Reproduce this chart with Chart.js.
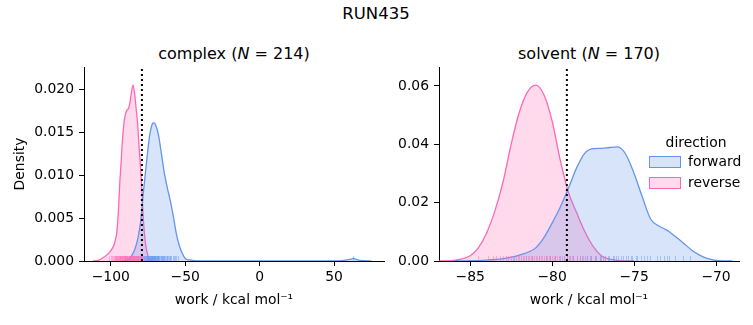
<!DOCTYPE html>
<html>
<head>
<meta charset="utf-8">
<script src="https://cdn.jsdelivr.net/npm/chart.js@4.4.0/dist/chart.umd.min.js"></script>
<style>
  body { margin: 0; background: #fff; font-family: 'DejaVu Sans', sans-serif; }
  #fig { position: relative; width: 753px; height: 325px; overflow: hidden; }
  .panel { position: absolute; top: 0; height: 325px; }
  .txt { position: absolute; white-space: nowrap; transform: translate(-50%, -50%); color: #000; }
  .leg { position: absolute; left: 649px; font-size: 13.9px; color: #000; white-space: nowrap; }
  .leg span.patch { display: inline-block; width: 32px; height: 12px; box-sizing: border-box; vertical-align: middle; margin-right: 7px; }
</style>
</head>
<body>
<div id="fig">
  <div class="txt" style="left:376px; top:13px; font-size:16.5px;">RUN435</div>
  <div class="txt" style="left:234px; top:53px; font-size:16px;">complex (<i>N</i> = 214)</div>
  <div class="txt" style="left:589px; top:53px; font-size:16px;">solvent (<i>N</i> = 170)</div>

  <div class="panel" style="left:0; width:390px;"><canvas id="complexChart"></canvas></div>
  <div class="panel" style="left:390px; width:363px;"><canvas id="solventChart"></canvas></div>

  <div class="txt" style="left:696px; top:142px; font-size:13.9px;">direction</div>
  <div class="leg" style="top:153px;"><span class="patch" style="background:rgba(100,149,237,0.25); border:1px solid #6495ed;"></span>forward</div>
  <div class="leg" style="top:174px;"><span class="patch" style="background:rgba(255,105,180,0.25); border:1px solid #ff69b4;"></span>reverse</div>
</div>

<script>
// curvas KDE - complex
const complexFwdX = [-92, -88, -86, -84, -82, -80, -78, -76, -74, -72, -71, -70, -68, -66, -64, -62, -60, -58, -56, -54, -52, -50, -47, -44, -40, -30, 0, 40, 55, 60, 62, 63, 64, 66, 70, 75];
const complexFwdY = [0, 0.0002, 0.0006, 0.0013, 0.0025, 0.0045, 0.0082, 0.0115, 0.0145, 0.016, 0.0161, 0.0159, 0.0147, 0.0125, 0.0102, 0.0085, 0.007, 0.0052, 0.0032, 0.0018, 0.0009, 0.0003, 0.00012, 0.00005, 0.00002, 0.00001, 0.00001, 0.00001, 0.00005, 0.00015, 0.00025, 0.0003, 0.00025, 0.00012, 0.00003, 0];
const complexRevX = [-112, -108, -105, -102, -100, -98, -97, -96, -95, -94, -93, -92, -91, -90, -89, -88, -87, -86, -85, -84, -83, -82, -81, -80, -79, -78, -77, -76, -75, -74, -72];
const complexRevY = [0, 0.0001, 0.0004, 0.0008, 0.0012, 0.0018, 0.0024, 0.0033, 0.0055, 0.009, 0.0117, 0.0145, 0.0163, 0.0172, 0.0176, 0.0178, 0.0186, 0.0198, 0.0205, 0.0195, 0.0178, 0.016, 0.0133, 0.0108, 0.0078, 0.0045, 0.0025, 0.0013, 0.0006, 0.0002, 0];

// curvas KDE - solvent
const solventFwdX = [-86, -84, -83, -82, -81, -80.5, -80, -79.5, -79, -78.5, -78, -77.5, -77, -76.5, -76, -75.5, -75, -74.5, -74, -73.5, -73, -72.5, -72, -71.5, -71, -70.5, -70, -69];
const solventFwdY = [0, 0.0003, 0.0008, 0.002, 0.0045, 0.008, 0.013, 0.0185, 0.025, 0.032, 0.037, 0.0385, 0.0386, 0.0389, 0.0391, 0.0365, 0.03, 0.022, 0.0145, 0.012, 0.0106, 0.0085, 0.0062, 0.0038, 0.002, 0.0008, 0.0002, 0];
const solventRevX = [-87, -86, -85.5, -85, -84.5, -84, -83.5, -83, -82.5, -82, -81.5, -81, -80.5, -80, -79.5, -79, -78.5, -78, -77.5, -77, -76.5, -76, -75];
const solventRevY = [0, 0.0002, 0.0007, 0.0018, 0.0045, 0.0095, 0.017, 0.027, 0.04, 0.051, 0.058, 0.0603, 0.057, 0.048, 0.0345, 0.0235, 0.0165, 0.01, 0.005, 0.0018, 0.0006, 0.0002, 0];

// rug (valores individuais de trabalho, aproximados)
const complexFwdRug = [-83, -81.5, -80.6, -80, -79.5, -79, -78.5, -78, -77.6, -77.3, -76.9, -76.5, -76.2, -76, -75.7, -75.4, -75.2, -75, -74.7, -74.5, -74.2, -74, -73.7, -73.5, -73.2, -73, -72.8, -72.6, -72.4, -72.2, -72, -71.8, -71.6, -71.4, -71.2, -71, -70.8, -70.6, -70.4, -70.2, -70, -69.8, -69.5, -69.3, -69, -68.8, -68.5, -68.3, -68, -67.7, -67.3, -67, -66.6, -66.3, -65.9, -65.5, -65.1, -64.8, -64.4, -64, -63.5, -63, -62.5, -62, -61.5, -61, -60.5, -60, -59.3, -58.5, -57.7, -57, -56, -55, 63];
const complexRevRug = [-101, -100, -99.5, -98.7, -98, -97.5, -97, -96.6, -96.2, -95.8, -95.5, -95.2, -95, -94.6, -94.3, -94, -93.8, -93.5, -93.2, -93, -92.7, -92.5, -92.2, -92, -91.7, -91.4, -91.2, -91, -90.7, -90.5, -90.2, -90, -89.8, -89.6, -89.3, -89, -88.8, -88.5, -88.2, -88, -87.8, -87.6, -87.4, -87.2, -87, -86.8, -86.5, -86.3, -86.1, -86, -85.8, -85.6, -85.4, -85.2, -85, -84.8, -84.6, -84.4, -84.2, -84, -83.7, -83.5, -83.2, -83, -82.7, -82.5, -82.2, -82, -81.7, -81.4, -81.1, -80.8, -80.4, -80, -79.6, -79.2, -78.5];
const solventFwdRug = [-82.3, -81.6, -81.2, -80.8, -80.4, -80.1, -79.8, -79.5, -79.3, -79.1, -78.9, -78.7, -78.5, -78.3, -78.2, -78, -77.9, -77.7, -77.6, -77.4, -77.3, -77.1, -77, -76.9, -76.8, -76.6, -76.5, -76.3, -76.2, -76.1, -76, -75.8, -75.7, -75.5, -75.4, -75.2, -75.1, -74.9, -74.8, -74.6, -74.4, -74.2, -74, -73.6, -73.4, -73.2, -73, -72.9, -72.5, -72, -71.6];
const solventRevRug = [-84.5, -83.9, -83.6, -83.4, -83.2, -83, -82.8, -82.7, -82.5, -82.4, -82.2, -82.1, -82, -81.9, -81.8, -81.7, -81.6, -81.5, -81.4, -81.3, -81.2, -81.1, -81, -80.9, -80.8, -80.7, -80.6, -80.5, -80.4, -80.3, -80.2, -80.1, -80, -79.9, -79.8, -79.7, -79.6, -79.4, -79.3, -79.1, -79, -78.8, -78.7, -78.5, -78.3, -78.1, -77.9, -77.6, -77.4, -77.1, -76.8];

// estimativa (linha pontilhada)
const complexDG = -79.1;
const solventDG = -79.1;

// ticks
const complexXTicks = [-100, -50, 0, 50];
const complexYTicks = [0, 0.005, 0.01, 0.015, 0.02];
const solventXTicks = [-85, -80, -75, -70];
const solventYTicks = [0, 0.02, 0.04, 0.06];

const BLUE = '#6495ed';
const PINK = '#ff69b4';
const FS = 13.9;

Chart.defaults.font.family = "'DejaVu Sans', sans-serif";
Chart.defaults.color = '#000';

const extrasPlugin = {
  id: 'extras',
  afterDatasetsDraw(chart, args, opts) {
    const ctx = chart.ctx, xs = chart.scales.x, area = chart.chartArea;
    ctx.save();
    opts.rugs.forEach(r => {
      ctx.strokeStyle = r.color;
      ctx.globalAlpha = 0.45;
      ctx.lineWidth = 1;
      r.values.forEach(v => {
        const px = Math.round(xs.getPixelForValue(v)) + 0.5;
        ctx.beginPath();
        ctx.moveTo(px, area.bottom);
        ctx.lineTo(px, area.bottom - 5);
        ctx.stroke();
      });
    });
    ctx.globalAlpha = 1;
    ctx.strokeStyle = '#000';
    ctx.lineWidth = 2;
    ctx.setLineDash([2, 3]);
    const dx = xs.getPixelForValue(opts.dg);
    ctx.beginPath();
    ctx.moveTo(dx, area.bottom);
    ctx.lineTo(dx, area.top);
    ctx.stroke();
    ctx.restore();
  }
};

function pts(xs, ys) {
  return xs.map((x, i) => ({ x: x, y: ys[i] }));
}

function minus(s) {
  return s.replace('-', '\u2212');
}

function makeChart(id, cfg) {
  const ctx = document.getElementById(id).getContext('2d');
  return new Chart(ctx, {
    type: 'line',
    data: {
      datasets: [
        {
          label: 'forward',
          data: pts(cfg.fwdX, cfg.fwdY),
          borderColor: BLUE,
          backgroundColor: 'rgba(100,149,237,0.25)',
          fill: 'origin',
          borderWidth: 1.3,
          pointRadius: 0,
          cubicInterpolationMode: 'monotone'
        },
        {
          label: 'reverse',
          data: pts(cfg.revX, cfg.revY),
          borderColor: PINK,
          backgroundColor: 'rgba(255,105,180,0.25)',
          fill: 'origin',
          borderWidth: 1.3,
          pointRadius: 0,
          cubicInterpolationMode: 'monotone'
        }
      ]
    },
    options: {
      responsive: true,
      maintainAspectRatio: false,
      animation: false,
      layout: { padding: { top: 67, right: cfg.padRight, left: 0, bottom: 0 } },
      plugins: {
        legend: { display: false },
        tooltip: { enabled: false },
        extras: { dg: cfg.dg, rugs: [{ values: cfg.fwdRug, color: BLUE }, { values: cfg.revRug, color: PINK }] }
      },
      scales: {
        x: {
          type: 'linear',
          min: cfg.xmin,
          max: cfg.xmax,
          afterBuildTicks: (s) => { s.ticks = cfg.xTicks.map(v => ({ value: v })); },
          afterFit: (s) => { s.height = 64; },
          grid: { display: true, drawOnChartArea: false, drawTicks: true, tickLength: 5, color: '#000' },
          border: { display: true, color: '#000', width: 1 },
          ticks: { font: { size: FS }, padding: 3, maxRotation: 0, callback: (v) => minus(String(v)) },
          title: { display: true, text: 'work / kcal mol\u207b\u00b9', font: { size: FS }, padding: { top: 0, bottom: 16 } }
        },
        y: {
          min: 0,
          max: cfg.ymax,
          afterBuildTicks: (s) => { s.ticks = cfg.yTicks.map(v => ({ value: v })); },
          afterFit: (s) => { s.width = cfg.yWidth; },
          grid: { display: true, drawOnChartArea: false, drawTicks: true, tickLength: 5, color: '#000' },
          border: { display: true, color: '#000', width: 1 },
          ticks: { font: { size: FS }, padding: 5, callback: (v) => v.toFixed(cfg.yDigits) },
          title: { display: cfg.yTitle !== '', text: cfg.yTitle, font: { size: FS }, padding: { top: 12, bottom: 0 } }
        }
      }
    },
    plugins: [extrasPlugin]
  });
}

makeChart('complexChart', {
  fwdX: complexFwdX, fwdY: complexFwdY, revX: complexRevX, revY: complexRevY,
  fwdRug: complexFwdRug, revRug: complexRevRug, dg: complexDG,
  xmin: -118, xmax: 83.5, ymax: 0.0226, xTicks: complexXTicks, yTicks: complexYTicks,
  yDigits: 3, yWidth: 84, padRight: 6, yTitle: 'Density'
});

makeChart('solventChart', {
  fwdX: solventFwdX, fwdY: solventFwdY, revX: solventRevX, revY: solventRevY,
  fwdRug: solventFwdRug, revRug: solventRevRug, dg: solventDG,
  xmin: -86.9, xmax: -68.6, ymax: 0.0665, xTicks: solventXTicks, yTicks: solventYTicks,
  yDigits: 2, yWidth: 49, padRight: 14, yTitle: ''
});
</script>
</body>
</html>
